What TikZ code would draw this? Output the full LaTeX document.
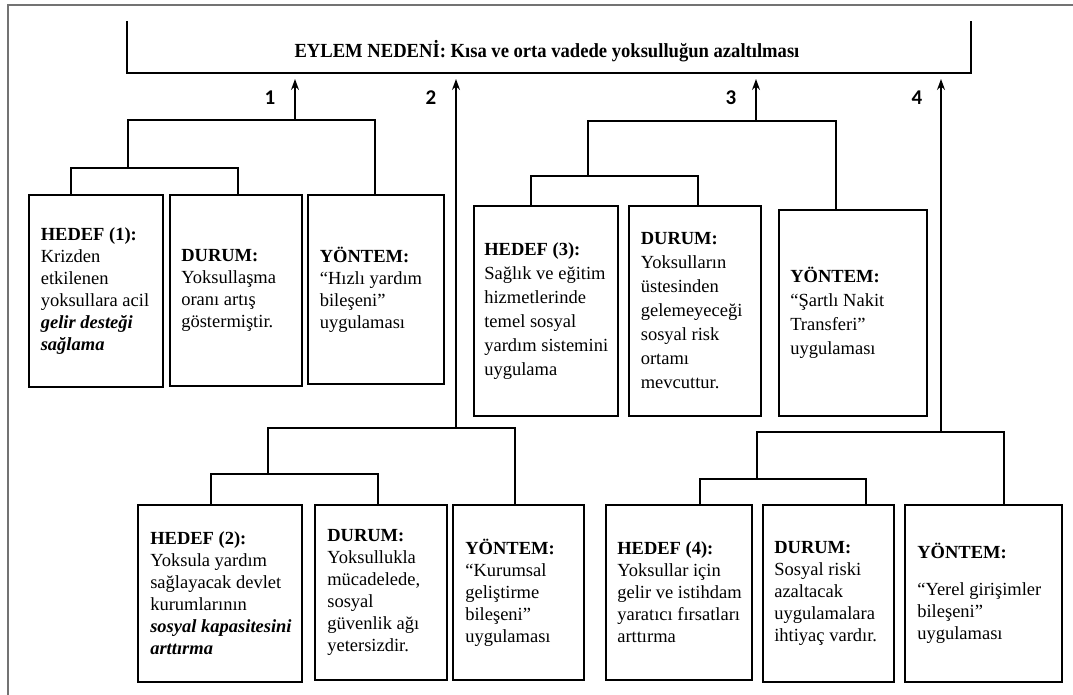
\documentclass[tikz,border=0pt]{standalone}
\usepackage{fontspec}
\setmainfont{Liberation Serif}
\newfontfamily\titlefont[FakeStretch=0.93]{Liberation Serif}
\newfontfamily\numfont{Carlito}
\usetikzlibrary{positioning,arrows.meta}

\tikzset{
  box/.style={draw, line width=1.8pt, inner sep=0pt},
  txt/.style={inner sep=0pt, align=left, font=\fontsize{18.5}{22}\selectfont},
  txtw/.style={txt, font=\fontsize{18.5}{24}\selectfont},
  link/.style={line width=1.3pt},
  num/.style={font=\numfont\bfseries\fontsize{21}{21}\selectfont},
}

\begin{document}
\begin{tikzpicture}[x=1pt,y=-1pt,>={Stealth[length=11pt,width=8pt]}]
\useasboundingbox (0,0) rectangle (1073,695);
\draw[line width=1.5pt, black!55] (8,695) |- (1073,5);

% eylem nedeni
\draw[line width=1.8pt] (127,21) |- (971,73) -- (971,21);
\node[font=\titlefont\bfseries\fontsize{20}{20}\selectfont] (neden) at (547,51)
  {EYLEM NEDENİ: Kısa ve orta vadede yoksulluğun azaltılması};
\coordinate (tip) at (0,79);

\foreach \g/\x/\y in {1/295/120,2/456/428,3/756/121,4/941/432} {
  \coordinate (g\g) at (\x,\y);
  \draw[->,link] (g\g) -- (g\g |- tip);
}
\foreach \x/\lab in {270/1,431/2,731/3,917/4}
  \node[num] (n\lab) at (\x,98) {\lab};

% kutular
\foreach \n/\x/\y/\w/\h in {h1/96/291/134/192, d1/236/290.5/132/191, y1/376/289.5/136/189,
    h3/546/311/144/210, d3/695/311/132/210, y3/853/313/148/206,
    h2/220/593.5/164/177, d2/381/592.5/132/175, y2/518.5/592.5/131/175,
    h4/679/592.5/146/175, d4/828.5/593.5/131/177, y4/983.5/593.5/157/177}
  \node[box, minimum width=\w, minimum height=\h] (\n) at (\x,\y) {};

\node[txt, right=12.5pt of h1.west] (h1t) {\textbf{HEDEF (1):}\\Krizden\\etkilenen\\yoksullara acil\\\textbf{\textit{gelir desteği}}\\\textbf{\textit{sağlama}}};
\node[txt, right=12pt of d1.west] (d1t) {\textbf{DURUM:}\\Yoksullaşma\\oranı artış\\göstermiştir.};
\node[txt, right=12.5pt of y1.west] (y1t) {\textbf{YÖNTEM:}\\“Hızlı yardım\\bileşeni”\\uygulaması};

\node[txtw, right=11pt of h3.west] (h3t) {\textbf{HEDEF (3):}\\Sağlık ve eğitim\\hizmetlerinde\\temel sosyal\\yardım sistemini\\uygulama};
\node[txtw, right=12.5pt of d3.west] (d3t) {\textbf{DURUM:}\\Yoksulların\\üstesinden\\gelemeyeceği\\sosyal risk\\ortamı\\mevcuttur.};
\node[txtw, right=12pt of y3.west] (y3t) {\textbf{YÖNTEM:}\\“Şartlı Nakit\\Transferi”\\uygulaması};

\node[txt, right=13pt of h2.west] (h2t) {\textbf{HEDEF (2):}\\Yoksula yardım\\sağlayacak devlet\\kurumlarının\\\textbf{\textit{sosyal kapasitesini}}\\\textbf{\textit{arttırma}}};
\node[txt, right=13pt of d2.west] (d2t) {\textbf{DURUM:}\\Yoksullukla\\mücadelede,\\sosyal\\güvenlik ağı\\yetersizdir.};
\node[txt, right=13pt of y2.west] (y2t) {\textbf{YÖNTEM:}\\“Kurumsal\\geliştirme\\bileşeni”\\uygulaması};

\node[txt, right=12pt of h4.west] (h4t) {\textbf{HEDEF (4):}\\Yoksullar için\\gelir ve istihdam\\yaratıcı fırsatları\\arttırma};
\node[txt, right=12pt of d4.west] (d4t) {\textbf{DURUM:}\\Sosyal riski\\azaltacak\\uygulamalara\\ihtiyaç vardır.};
\node[txt, right=13pt of y4.west] (y4t) {\textbf{YÖNTEM:}\\[15pt]“Yerel girişimler\\bileşeni”\\uygulaması};

% dallar
\draw[link] (71,0 |- h1.north) |- (238,168) -- (238,0 |- d1.north);
\draw[link] (128,168) |- (375,120) -- (375,0 |- y1.north);
\draw[link] (531,0 |- h3.north) |- (698,176) -- (698,0 |- d3.north);
\draw[link] (588,176) |- (836,121) -- (836,0 |- y3.north);
\draw[link] (211,0 |- h2.north) |- (378,474) -- (378,0 |- d2.north);
\draw[link] (268,474) |- (515,428) -- (515,0 |- y2.north);
\draw[link] (700,0 |- h4.north) |- (866,479) -- (866,0 |- d4.north);
\draw[link] (757,479) |- (1004,432) -- (1004,0 |- y4.north);
\end{tikzpicture}
\end{document}
